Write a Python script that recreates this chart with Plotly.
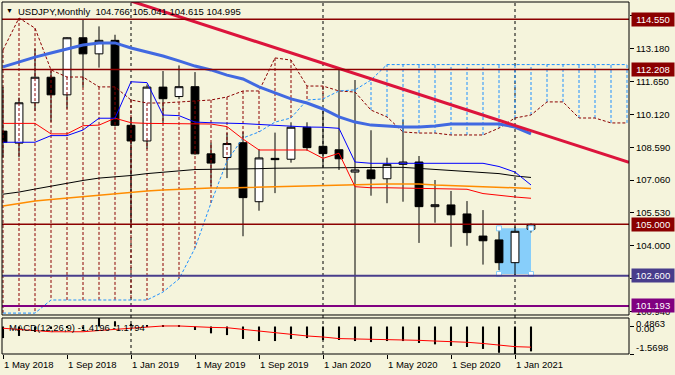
import plotly.graph_objects as go

# ---------------- data ----------------
months = ["May 2018", "Jun 2018", "Jul 2018", "Aug 2018", "Sep 2018", "Oct 2018", "Nov 2018", "Dec 2018",
          "Jan 2019", "Feb 2019", "Mar 2019", "Apr 2019", "May 2019", "Jun 2019", "Jul 2019", "Aug 2019",
          "Sep 2019", "Oct 2019", "Nov 2019", "Dec 2019", "Jan 2020", "Feb 2020", "Mar 2020", "Apr 2020",
          "May 2020", "Jun 2020", "Jul 2020", "Aug 2020", "Sep 2020", "Oct 2020", "Nov 2020", "Dec 2020",
          "Jan 2021", "Feb 2021"]
opens = [109.34, 108.78, 110.66, 111.85, 111.03, 113.69, 112.94, 113.57, 109.61, 108.88, 111.39, 110.95,
         111.41, 108.28, 108.11, 108.80, 106.05, 108.07, 108.03, 109.52, 108.63, 108.47, 107.43, 107.53,
         107.12, 107.79, 107.90, 105.82, 105.90, 105.48, 104.45, 104.27, 103.21, 104.766]
highs = [111.40, 110.90, 113.18, 112.15, 113.71, 114.55, 114.22, 113.83, 110.00, 111.51, 112.14, 112.40,
         112.09, 108.80, 109.25, 109.31, 108.50, 109.27, 109.75, 109.75, 110.30, 112.25, 111.72, 109.38,
         108.10, 109.87, 108.18, 107.06, 106.55, 106.08, 105.66, 104.80, 104.89, 105.041]
lows = [108.11, 108.12, 110.28, 109.77, 110.38, 111.38, 112.30, 109.56, 104.87, 108.50, 109.71, 110.83,
        108.25, 106.78, 107.15, 104.44, 105.63, 106.45, 107.87, 108.43, 107.65, 107.53, 101.18, 106.33,
        105.98, 106.05, 104.13, 105.07, 103.95, 104.00, 103.12, 102.86, 102.59, 104.615]
closes = [108.82, 110.66, 111.85, 111.03, 113.69, 112.94, 113.57, 109.61, 108.88, 111.39, 110.85, 111.41,
          108.28, 107.85, 108.76, 106.24, 108.09, 108.01, 109.52, 108.57, 108.29, 108.05, 107.53, 107.12,
          107.79, 107.90, 105.82, 105.91, 105.44, 104.61, 104.23, 103.21, 104.67, 104.995]

ma_blue = [112.33, 112.56, 112.79, 112.98, 113.17, 113.35, 113.45, 113.45, 113.21, 113.03, 112.84, 112.61,
           112.37, 112.19, 111.95, 111.77, 111.40, 111.12, 110.84, 110.65, 110.37, 110.00, 109.76, 109.62,
           109.58, 109.53, 109.53, 109.58, 109.67, 109.67, 109.67, 109.67, 109.53, 109.21]
ma_black = [106.40, 106.50, 106.64, 106.78, 106.92, 107.04, 107.15, 107.20, 107.27, 107.36, 107.43, 107.51,
            107.55, 107.56, 107.56, 107.56, 107.59, 107.61, 107.62, 107.63, 107.63, 107.65, 107.65, 107.65,
            107.65, 107.65, 107.60, 107.55, 107.50, 107.46, 107.41, 107.36, 107.25, 107.18]
ma_orange = [105.85, 105.97, 106.08, 106.15, 106.22, 106.29, 106.36, 106.43, 106.49, 106.55, 106.60, 106.64,
             106.67, 106.69, 106.69, 106.71, 106.74, 106.76, 106.77, 106.80, 106.81, 106.83, 106.86, 106.88,
             106.88, 106.88, 106.88, 106.83, 106.80, 106.77, 106.74, 106.72, 106.69, 106.67]
tenkan = [109.70, 109.70, 109.70, 109.21, 109.21, 109.59, 109.62, 109.94, 109.73, 109.70, 109.69, 109.69,
          109.67, 109.67, 109.55, 108.97, 108.46, 108.46, 108.48, 108.46, 108.07, 108.31, 106.75, 106.70,
          106.70, 106.69, 106.69, 106.67, 106.64, 106.63, 106.43, 106.34, 106.27, 106.21]
kijun = [108.82, 108.82, 108.82, 109.13, 109.13, 109.39, 109.94, 109.94, 111.64, 111.60, 110.09, 110.06,
         109.76, 109.73, 109.72, 109.69, 109.65, 109.60, 109.55, 109.53, 109.52, 109.47, 107.90, 107.84,
         107.84, 107.84, 107.84, 107.84, 107.84, 107.84, 107.84, 107.69, 107.43, 106.83]
span_a = [113.12, 114.61, 114.14, 112.19, 111.86, 111.86, 111.40, 111.40, 110.79, 110.65, 110.65, 110.70,
          110.74, 110.79, 110.93, 111.21, 111.21, 112.75, 112.65, 111.44, 111.44, 111.21, 111.16, 110.32,
          110.00, 109.30, 109.25, 109.25, 109.16, 109.16, 109.16, 109.48, 109.95, 110.09, 110.70, 110.70,
          109.95, 109.95, 109.72, 109.72]
span_b = [100.86, 100.86, 100.86, 101.47, 101.47, 101.47, 101.47, 101.47, 101.47, 101.47, 101.84, 102.45,
          103.89, 105.99, 107.95, 109.02, 109.30, 109.76, 109.95, 110.79, 110.84, 111.21, 111.26, 111.72,
          112.44, 112.44, 112.44, 112.44, 112.44, 112.44, 112.44, 112.44, 112.44, 112.44, 112.44, 112.44,
          112.44, 112.44, 112.44, 112.44]
macd_main = [-0.66, -0.54, -0.31, -0.14, -0.09, -0.14, 0.4863, 0.30, 0.15, 0.08, 0.03, 0.05,
             -0.20, -0.39, -0.49, -0.71, -0.83, -0.83, -0.71, -0.66, -0.77, -0.77, -0.83, -0.89,
             -0.83, -0.83, -0.94, -1.02, -1.11, -1.17, -1.28, -1.50, -1.5698, -1.4196]
macd_signal = [-0.10, -0.17, -0.26, -0.30, -0.30, -0.30, -0.23, -0.16, -0.11, -0.06, 0.03, 0.03,
               -0.03, -0.05, -0.07, -0.17, -0.26, -0.35, -0.46, -0.54, -0.60, -0.69, -0.71, -0.73,
               -0.73, -0.73, -0.79, -0.83, -0.86, -0.90, -0.97, -1.06, -1.15, -1.1794]

levels = [114.550, 112.208, 105.000, 102.600, 101.193]
level_colors = ["#8B0000", "#8B0000", "#8B0000", "#483D8B", "#800080"]
level_widths = [1.5, 1.5, 1.5, 2, 2]

trend_x = [8, 39.125]
trend_y = [115.40, 107.88]

rect_months = ["Dec 2020", "Feb 2021"]
rect_prices = [102.68, 104.81]

separator_months = ["Jan 2019", "Jan 2020", "Jan 2021"]
label_months = months[::4]

price_ticks = [114.710, 113.180, 111.650, 110.120, 108.590, 107.060, 105.530, 104.000, 102.470, 100.940]
macd_labels = [(0.4863, "0.4863", -6), (0.0, "0.00", -1.5), (-1.5698, "-1.5698", 7)]

title_text = "USDJPY,Monthly\u00a0\u00a0104.766 105.041 104.615 104.995"
macd_title = "MACD(12,26,9) -1.4196 -1.1794"

# ---------------- figure ----------------
BG = "#F5F4DC"
FONT = "Liberation Sans"
idx = list(range(len(months)))
cidx = list(range(len(span_a)))
pos = {m: i for i, m in enumerate(months)}

fig = go.Figure()

# Ichimoku cloud hatch
hx_r, hy_r, hx_b, hy_b = [], [], [], []
for i, (a, b) in enumerate(zip(span_a, span_b)):
    if a >= b:
        hx_r += [i, i, None]; hy_r += [a, b, None]
    else:
        hx_b += [i, i, None]; hy_b += [a, b, None]
fig.add_trace(go.Scatter(x=hx_r, y=hy_r, mode="lines", line=dict(color="#8B0000", width=1, dash="3px,2px"),
                         hoverinfo="skip"))
fig.add_trace(go.Scatter(x=hx_b, y=hy_b, mode="lines", line=dict(color="#1E90FF", width=1, dash="3px,2px"),
                         hoverinfo="skip"))
fig.add_trace(go.Scatter(x=cidx, y=span_a, mode="lines", line=dict(color="#8B0000", width=1, dash="3px,2px"),
                         hoverinfo="skip"))
fig.add_trace(go.Scatter(x=cidx, y=span_b, mode="lines", line=dict(color="#1E90FF", width=1, dash="3px,2px"),
                         hoverinfo="skip"))

# moving averages and ichimoku lines
fig.add_trace(go.Scatter(x=idx, y=ma_orange, mode="lines", line=dict(color="#FF8C00", width=1.5)))
fig.add_trace(go.Scatter(x=idx, y=ma_black, mode="lines", line=dict(color="black", width=1)))
fig.add_trace(go.Scatter(x=idx, y=tenkan, mode="lines", line=dict(color="#FF0000", width=1)))
fig.add_trace(go.Scatter(x=idx, y=kijun, mode="lines", line=dict(color="#0000FF", width=1)))
fig.add_trace(go.Scatter(x=idx, y=ma_blue, mode="lines", line=dict(color="#4169E1", width=3)))

# candles
fig.add_trace(go.Candlestick(
    x=idx, open=opens, high=highs, low=lows, close=closes,
    increasing=dict(fillcolor="white", line=dict(color="black", width=1)),
    decreasing=dict(fillcolor="black", line=dict(color="black", width=1)),
    whiskerwidth=0, hoverinfo="skip"))

# rectangle handles
hx = [pos[rect_months[0]], pos[rect_months[1]], pos[rect_months[0]], pos[rect_months[1]]]
hy = [rect_prices[1], rect_prices[1], rect_prices[0], rect_prices[0]]
fig.add_trace(go.Scatter(x=hx, y=hy, mode="markers",
                         marker=dict(symbol="square", size=5, color="white", line=dict(color="#87CEFA", width=1))))

# trend line
fig.add_trace(go.Scatter(x=trend_x, y=trend_y, mode="lines", line=dict(color="#DC143C", width=3)))

# MACD
fig.add_trace(go.Bar(x=idx, y=macd_main, width=0.13, marker=dict(color="black", line=dict(width=0)),
                     yaxis="y2"))
fig.add_trace(go.Scatter(x=idx, y=macd_signal, mode="lines", line=dict(color="#FF0000", width=1), yaxis="y2"))

shapes = []
shapes.append(dict(type="rect", xref="x", yref="y", x0=pos[rect_months[0]], x1=pos[rect_months[1]],
                   y0=rect_prices[0], y1=rect_prices[1], fillcolor="#87CEFA", line=dict(width=0), layer="below"))
for m in separator_months:
    shapes.append(dict(type="line", xref="x", yref="paper", x0=pos[m], x1=pos[m], y0=0, y1=1,
                       line=dict(color="black", width=1, dash="3px,3px"), layer="below"))
for lv, c, w in zip(levels, level_colors, level_widths):
    shapes.append(dict(type="line", xref="paper", yref="y", x0=0, x1=1, y0=lv, y1=lv,
                       line=dict(color=c, width=w)))
MAIN_DOM = [0.1108, 1.0]
MACD_DOM = [0.0, 0.1023]
shapes.append(dict(type="rect", xref="paper", yref="paper", x0=0, x1=1, y0=MAIN_DOM[0], y1=MAIN_DOM[1],
                   line=dict(color="black", width=1)))
shapes.append(dict(type="rect", xref="paper", yref="paper", x0=0, x1=1, y0=MACD_DOM[0], y1=MACD_DOM[1],
                   line=dict(color="black", width=1)))

ann = []
ann.append(dict(xref="paper", yref="paper", x=0, y=1, xanchor="left", yanchor="top", xshift=2, yshift=-3,
                text="\u25BC", showarrow=False, font=dict(family=FONT, size=7, color="black")))
ann.append(dict(xref="paper", yref="paper", x=0, y=1, xanchor="left", yanchor="top", xshift=14, yshift=-2,
                text=title_text, showarrow=False, font=dict(family=FONT, size=9.5, color="black")))
ann.append(dict(xref="paper", yref="paper", x=0, y=MACD_DOM[1], xanchor="left", yanchor="top", xshift=5,
                yshift=-2, text=macd_title, showarrow=False, font=dict(family=FONT, size=9.5, color="black")))
for m in label_months:
    ann.append(dict(xref="x", yref="paper", x=pos[m], y=0, xanchor="left", yanchor="top", xshift=-1,
                    yshift=-3, text="1 " + m, showarrow=False, font=dict(family=FONT, size=9.5, color="black")))
for lv, c in zip(levels, level_colors):
    ann.append(dict(xref="paper", yref="y", x=1, y=lv, xanchor="left", yanchor="middle", xshift=2,
                    text="%.3f" % lv, showarrow=False, bgcolor=c, width=40, height=11, borderpad=1,
                    font=dict(family=FONT, size=9.5, color="white")))
for v, t, sh in macd_labels:
    ann.append(dict(xref="paper", yref="y2", x=1, y=v, xanchor="left", yanchor="middle", xshift=5,
                    yshift=sh, text=t, showarrow=False, font=dict(family=FONT, size=9.5, color="black")))

fig.update_layout(
    width=675, height=375, margin=dict(l=2, r=46, t=2, b=21),
    paper_bgcolor=BG, plot_bgcolor="rgba(0,0,0,0)", showlegend=False,
    boxgap=0.3,
    xaxis=dict(range=[-0.0625, 39.125], anchor="y2", tickvals=[pos[m] for m in label_months],
               ticks="outside", ticklen=4, tickcolor="black", showticklabels=False, showgrid=False,
               zeroline=False, showline=False, rangeslider=dict(visible=False), fixedrange=True),
    yaxis=dict(domain=MAIN_DOM, range=[100.771, 115.356], side="right", anchor="x", tickvals=price_ticks,
               ticktext=["%.3f" % p for p in price_ticks], ticks="outside", ticklen=4, tickcolor="black",
               tickfont=dict(family=FONT, size=9.5, color="black"), showgrid=False, zeroline=False,
               showline=False),
    yaxis2=dict(domain=MACD_DOM, range=[-1.5698, 0.4863], side="right", anchor="x", tickvals=[0.0, -1.5698],
                ticks="outside", ticklen=4, tickcolor="black", showticklabels=False, showgrid=False,
                zeroline=False, showline=False),
    shapes=shapes, annotations=ann,
)

fig.write_html("out.html", config={"displayModeBar": False},
               post_script="document.body.style.margin='0';document.body.style.background='%s';" % BG)
